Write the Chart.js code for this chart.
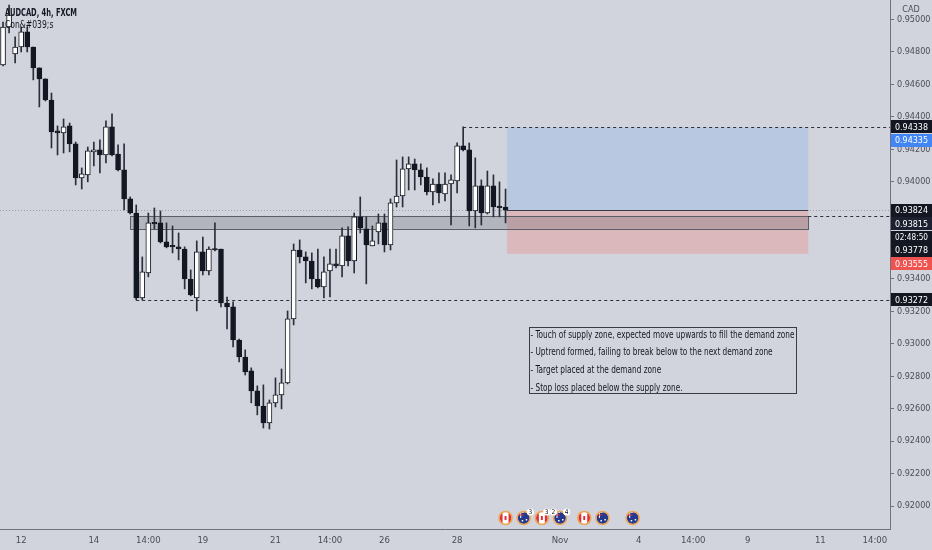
<!DOCTYPE html>
<html>
<head>
<meta charset="utf-8">
<script src="https://cdn.jsdelivr.net/npm/chart.js@4.4.0/dist/chart.umd.min.js"></script>
<style>
  html, body { margin: 0; padding: 0; background: #d1d4dc; }
  #wrap { width: 932px; height: 550px; }
</style>
</head>
<body>
<div id="wrap"><canvas id="chart" width="932" height="550"></canvas></div>
<script>
// AUDCAD 4h candles (index 0 = first visible bar)
const opens = [
  0.94720, 0.94954, 0.94788, 0.94831, 0.94924, 0.94831, 0.94702, 0.94634, 0.94504, 0.94313,
  0.94301, 0.94344, 0.94233, 0.94023, 0.94042, 0.94184, 0.94196, 0.94165, 0.94338, 0.94171,
  0.94073, 0.93894, 0.93807, 0.93283, 0.93437, 0.93746, 0.93746, 0.93629, 0.93604, 0.93598,
  0.93585, 0.93400, 0.93283, 0.93567, 0.93450, 0.93585, 0.93585, 0.93252, 0.93228, 0.93024,
  0.92919, 0.92833, 0.92710, 0.92617, 0.92512, 0.92636, 0.92685, 0.92759, 0.93154, 0.93579,
  0.93536, 0.93511, 0.93400, 0.93351, 0.93450, 0.93493, 0.93481, 0.93666, 0.93511, 0.93783,
  0.93709, 0.93604, 0.93690, 0.93746, 0.93610, 0.93869, 0.93912, 0.94079, 0.94110, 0.94073,
  0.94029, 0.93937, 0.93986, 0.93925, 0.93986, 0.94005, 0.94221, 0.94196, 0.93820, 0.93974,
  0.93807, 0.93974, 0.93844, 0.93844
];
const highs = [
  0.94985, 0.95090, 0.94893, 0.94954, 0.94954, 0.94831, 0.94702, 0.94634, 0.94547, 0.94344,
  0.94387, 0.94362, 0.94245, 0.94085, 0.94214, 0.94245, 0.94258, 0.94375, 0.94418, 0.94227,
  0.94233, 0.93906, 0.93857, 0.93536, 0.93807, 0.93838, 0.93820, 0.93746, 0.93727, 0.93684,
  0.93598, 0.93456, 0.93635, 0.93659, 0.93598, 0.93746, 0.93585, 0.93289, 0.93259, 0.93030,
  0.92963, 0.92852, 0.92741, 0.92747, 0.92654, 0.92790, 0.92845, 0.93203, 0.93616, 0.93641,
  0.93567, 0.93561, 0.93585, 0.93536, 0.93585, 0.93585, 0.93715, 0.93721, 0.93807, 0.93906,
  0.93783, 0.93727, 0.93801, 0.93801, 0.93894, 0.94134, 0.94153, 0.94153, 0.94140, 0.94110,
  0.94085, 0.94017, 0.94054, 0.94054, 0.94042, 0.94239, 0.94338, 0.94239, 0.94147, 0.94011,
  0.94066, 0.94042, 0.93999, 0.93955
];
const lows = [
  0.94714, 0.94917, 0.94732, 0.94800, 0.94800, 0.94628, 0.94461, 0.94498, 0.94208, 0.94165,
  0.94177, 0.94184, 0.93980, 0.93955, 0.93999, 0.94097, 0.94054, 0.94116, 0.94159, 0.94066,
  0.93826, 0.93801, 0.93271, 0.93271, 0.93413, 0.93709, 0.93622, 0.93592, 0.93561, 0.93518,
  0.93339, 0.93296, 0.93203, 0.93425, 0.93425, 0.93573, 0.93228, 0.93092, 0.92981, 0.92889,
  0.92808, 0.92636, 0.92562, 0.92481, 0.92475, 0.92611, 0.92599, 0.92753, 0.93117, 0.93499,
  0.93376, 0.93339, 0.93345, 0.93283, 0.93289, 0.93468, 0.93413, 0.93481, 0.93437, 0.93684,
  0.93370, 0.93604, 0.93616, 0.93567, 0.93579, 0.93844, 0.93844, 0.93949, 0.93949, 0.93980,
  0.93918, 0.93857, 0.93869, 0.93881, 0.93733, 0.93931, 0.94190, 0.93727, 0.93715, 0.93733,
  0.93801, 0.93783, 0.93783, 0.93746
];
const closes = [
  0.94954, 0.95028, 0.94831, 0.94924, 0.94831, 0.94702, 0.94634, 0.94504, 0.94307, 0.94301,
  0.94338, 0.94233, 0.94023, 0.94048, 0.94190, 0.94196, 0.94165, 0.94338, 0.94165, 0.94073,
  0.93894, 0.93807, 0.93283, 0.93444, 0.93746, 0.93740, 0.93629, 0.93598, 0.93598, 0.93585,
  0.93400, 0.93302, 0.93567, 0.93450, 0.93585, 0.93579, 0.93252, 0.93228, 0.93024, 0.92919,
  0.92827, 0.92710, 0.92617, 0.92512, 0.92636, 0.92685, 0.92759, 0.93154, 0.93579, 0.93536,
  0.93511, 0.93400, 0.93351, 0.93444, 0.93493, 0.93481, 0.93666, 0.93511, 0.93783, 0.93715,
  0.93610, 0.93635, 0.93746, 0.93610, 0.93869, 0.93912, 0.94079, 0.94110, 0.94073, 0.94029,
  0.93937, 0.93986, 0.93931, 0.93986, 0.94011, 0.94221, 0.94196, 0.93820, 0.93974, 0.93807,
  0.93974, 0.93844, 0.93840, 0.93824
];

// time axis labels (bar index -> text)
const xTickIdx  = [3, 15, 24, 33, 45, 54, 63, 75, 92, 105, 114, 123, 135, 144];
const xTickText = ['12', '14', '14:00', '19', '21', '14:00', '26', '28', 'Nov', '4', '14:00', '9', '11', '14:00'];

// price axis labels
const priceTicks = [0.950, 0.948, 0.946, 0.944, 0.942, 0.940, 0.938, 0.936, 0.934,
                    0.932, 0.930, 0.928, 0.926, 0.924, 0.922, 0.920];

// drawings
const supplyZone = { from: 21, to: 133, top: 0.93789, bottom: 0.93709 };
const position   = { from: 83.25, to: 133, entry: 0.93824, target: 0.94335, stop: 0.93555 };
const dashedLevels = [
  { price: 0.94338, from: 76 },
  { price: 0.93272, from: 22 },
  { price: 0.93789, from: 133 }
];
const lastPrice = 0.93824;

const noteBox = { from: 86.9, to: 131, top: 0.93102, bottom: 0.92699 };
const noteLines = [
  '- Touch of supply zone, expected move upwards to fill the demand zone',
  '- Uptrend formed, failing to break below to the next demand zone',
  '- Target placed at the demand zone',
  '- Stop loss placed below the supply zone.'
];

// price tags on the right axis (in the order they are stacked)
const tagText  = ['0.94338', '0.94335', '0.93824', '0.93815', '02:48:50', '0.93778', '0.93555', '0.93272'];
const tagPrice = [0.94338, 0.94335, 0.93824, 0.93815, 0.93815, 0.93778, 0.93555, 0.93272];
const tagBg    = ['#131722', '#4285f4', '#131722', '#1c2030', '#131722', '#131722', '#ef5350', '#131722'];

// economic calendar icons
const eventIdx  = [83, 86, 89, 92, 96, 99, 104];
const eventKind = ['CA', 'AU', 'CA', 'AU', 'CA', 'AU', 'AU'];
const badgeIdx  = [87.1, 89.8, 90.9, 93.1];
const badgeText = ['3', '3', '2', '4'];

const BG = '#d1d4dc';
const INK = '#131722';
const AXIS = '#6f727c';
const LABEL = '#4a4d57';
const NARROW = '"Liberation Sans Narrow", "DejaVu Sans Condensed", "Liberation Sans", sans-serif';

const idx = opens.map((_, i) => i);

// draw text squeezed horizontally by a fixed factor (the screenshot is condensed)
function squeezed(ctx, text, x, y, k) {
  ctx.fillText(text, x, y, ctx.measureText(text).width * k);
}

const tvDrawings = {
  id: 'tvDrawings',
  beforeDatasetsDraw(chart) {
    const { ctx, chartArea: a, scales: { x, y } } = chart;
    ctx.save();
    ctx.beginPath();
    ctx.rect(a.left, a.top, a.right - a.left, a.bottom - a.top);
    ctx.clip();

    // last price dotted line
    ctx.strokeStyle = '#9b9ea8';
    ctx.lineWidth = 1;
    ctx.setLineDash([1, 2]);
    const lp = Math.round(y.getPixelForValue(lastPrice)) + 0.5;
    ctx.beginPath(); ctx.moveTo(a.left, lp); ctx.lineTo(a.right, lp); ctx.stroke();
    ctx.setLineDash([]);

    // long position tool
    const px0 = x.getPixelForValue(position.from), px1 = x.getPixelForValue(position.to);
    const pe = y.getPixelForValue(position.entry);
    const pt = y.getPixelForValue(position.target);
    const ps = y.getPixelForValue(position.stop);
    ctx.fillStyle = '#b8c8e0';
    ctx.fillRect(px0, pt, px1 - px0, pe - pt);
    ctx.fillStyle = '#dbb8bc';
    ctx.fillRect(px0, pe, px1 - px0, ps - pe);
    ctx.strokeStyle = '#3a3d46';
    ctx.beginPath(); ctx.moveTo(px0, Math.round(pe) + 0.5); ctx.lineTo(px1, Math.round(pe) + 0.5); ctx.stroke();

    // supply zone rectangle
    const sx0 = x.getPixelForValue(supplyZone.from), sx1 = x.getPixelForValue(supplyZone.to);
    const sy0 = y.getPixelForValue(supplyZone.top), sy1 = y.getPixelForValue(supplyZone.bottom);
    ctx.fillStyle = 'rgba(70,72,82,0.22)';
    ctx.fillRect(sx0, sy0, sx1 - sx0, sy1 - sy0);
    ctx.strokeStyle = '#5a5d66';
    ctx.strokeRect(Math.round(sx0) + 0.5, Math.round(sy0) + 0.5, Math.round(sx1 - sx0), Math.round(sy1 - sy0));

    // dashed levels
    ctx.strokeStyle = '#2a2e39';
    ctx.setLineDash([3, 3]);
    dashedLevels.forEach(l => {
      const ly = Math.round(y.getPixelForValue(l.price)) + 0.5;
      ctx.beginPath(); ctx.moveTo(x.getPixelForValue(l.from), ly); ctx.lineTo(a.right, ly); ctx.stroke();
    });
    ctx.setLineDash([]);
    ctx.restore();
  },
  afterDraw(chart) {
    const { ctx, chartArea: a, scales: { x, y } } = chart;
    ctx.save();

    // note box
    const nx0 = Math.round(x.getPixelForValue(noteBox.from)) + 0.5;
    const nx1 = Math.round(x.getPixelForValue(noteBox.to)) + 0.5;
    const ny0 = Math.round(y.getPixelForValue(noteBox.top)) + 0.5;
    const ny1 = Math.round(y.getPixelForValue(noteBox.bottom)) + 0.5;
    ctx.fillStyle = BG;
    ctx.fillRect(nx0, ny0, nx1 - nx0, ny1 - ny0);
    ctx.strokeStyle = '#3a3d46';
    ctx.lineWidth = 1;
    ctx.strokeRect(nx0, ny0, nx1 - nx0, ny1 - ny0);
    ctx.fillStyle = INK;
    ctx.font = '10.5px ' + NARROW;
    ctx.textBaseline = 'alphabetic';
    ctx.textAlign = 'left';
    const k = (nx1 - nx0 - 3) / ctx.measureText(noteLines[0]).width;
    noteLines.forEach((t, i) => squeezed(ctx, t, nx0 + 1, ny0 + 10 + i * 17.7, k));

    // symbol header
    ctx.font = 'bold 10.5px ' + NARROW;
    ctx.fillText('AUDCAD, 4h, FXCM', 5, 16, 72);
    ctx.font = '10px ' + NARROW;
    squeezed(ctx, 'Con&#039;s', 5, 28, 0.85);

    // calendar icons
    const ey = a.bottom - 11;
    eventIdx.forEach((v, i) => {
      const ex = x.getPixelForValue(v);
      ctx.save();
      ctx.beginPath(); ctx.arc(ex, ey, 6, 0, Math.PI * 2);
      ctx.fillStyle = eventKind[i] === 'AU' ? '#23398f' : '#ffffff';
      ctx.fill();
      ctx.clip();
      if (eventKind[i] === 'CA') {
        ctx.fillStyle = '#e0313a';
        ctx.fillRect(ex - 6, ey - 6, 3, 12);
        ctx.fillRect(ex + 3, ey - 6, 3, 12);
        ctx.fillRect(ex - 1, ey - 2, 2, 4);
      } else {
        ctx.fillStyle = '#ffffff';
        ctx.fillRect(ex - 6, ey - 6, 6, 1);
        ctx.fillRect(ex - 3.5, ey - 6, 1, 6);
        ctx.fillStyle = '#e0313a';
        ctx.fillRect(ex - 6, ey - 3.5, 6, 1);
        ctx.fillStyle = '#ffffff';
        ctx.fillRect(ex + 2, ey + 1, 1.5, 1.5);
        ctx.fillRect(ex - 2, ey + 2, 1.5, 1.5);
      }
      ctx.restore();
      ctx.beginPath(); ctx.arc(ex, ey, 6.5, 0, Math.PI * 2);
      ctx.strokeStyle = '#eda553';
      ctx.lineWidth = 1.5;
      ctx.stroke();
    });
    ctx.font = '6.5px ' + NARROW;
    ctx.textAlign = 'center';
    ctx.textBaseline = 'middle';
    badgeIdx.forEach((v, i) => {
      const bx = x.getPixelForValue(v);
      ctx.beginPath(); ctx.arc(bx, ey - 6, 3.6, 0, Math.PI * 2);
      ctx.fillStyle = '#ffffff'; ctx.fill();
      ctx.fillStyle = INK;
      ctx.fillText(badgeText[i], bx, ey - 5.8);
    });

    // currency label on top of price scale
    ctx.fillStyle = BG;
    ctx.fillRect(a.right + 1, 0, chart.width - a.right, 15);
    ctx.fillStyle = LABEL;
    ctx.font = '9px ' + NARROW;
    ctx.fillText('CAD', a.right + 21, 10);

    // price tags, pushed down when they overlap
    ctx.font = '9.5px ' + NARROW;
    ctx.textAlign = 'left';
    let prev = -100;
    tagText.forEach((t, i) => {
      const ty = Math.max(y.getPixelForValue(tagPrice[i]), prev + 13.4);
      prev = ty;
      ctx.fillStyle = tagBg[i];
      ctx.fillRect(a.right + 1, Math.round(ty - 6.5), chart.width - a.right, 13);
      ctx.fillStyle = '#ffffff';
      ctx.fillText(t, a.right + 5, Math.round(ty) + 0.5, 33);
    });
    ctx.restore();
  }
};

new Chart(document.getElementById('chart'), {
  type: 'bar',
  data: {
    datasets: [
      {
        label: 'body',
        data: idx.map(i => ({ x: i, y: [opens[i], closes[i]] })),
        backgroundColor: idx.map(i => closes[i] > opens[i] ? '#ffffff' : INK),
        borderColor: INK,
        borderWidth: 1,
        borderSkipped: false,
        barThickness: 5,
        minBarLength: 1.5,
        grouped: false
      },
      {
        label: 'wick',
        data: idx.map(i => ({ x: i, y: [lows[i], highs[i]] })),
        backgroundColor: '#2a2e39',
        borderWidth: 0,
        barThickness: 1,
        grouped: false
      }
    ]
  },
  options: {
    responsive: false,
    animation: false,
    devicePixelRatio: 1,
    layout: { padding: 0 },
    plugins: { legend: { display: false }, tooltip: { enabled: false } },
    scales: {
      x: {
        type: 'linear',
        min: -0.5,
        max: 146.5,
        offset: false,
        grid: { display: false, drawTicks: false },
        border: { display: true, color: AXIS },
        afterBuildTicks: s => { s.ticks = xTickIdx.map(v => ({ value: v })); },
        afterFit: s => { s.height = 21; s.paddingLeft = 0; s.paddingRight = 0; },
        ticks: {
          autoSkip: false, maxRotation: 0, padding: 6, color: LABEL,
          font: { size: 9.5, family: NARROW },
          callback: (v, i) => xTickText[i]
        }
      },
      y: {
        type: 'linear',
        position: 'right',
        min: 0.918582,
        max: 0.951206,
        grid: { drawOnChartArea: false, drawTicks: true, tickLength: 4, color: AXIS },
        border: { display: true, color: AXIS },
        afterBuildTicks: s => { s.ticks = priceTicks.map(v => ({ value: v })); },
        afterFit: s => { s.width = 42; s.paddingTop = 0; s.paddingBottom = 0; },
        ticks: {
          autoSkip: false, padding: 3, color: LABEL,
          font: { size: 9, family: NARROW },
          callback: v => v.toFixed(5)
        }
      }
    }
  },
  plugins: [tvDrawings]
});
</script>
</body>
</html>
